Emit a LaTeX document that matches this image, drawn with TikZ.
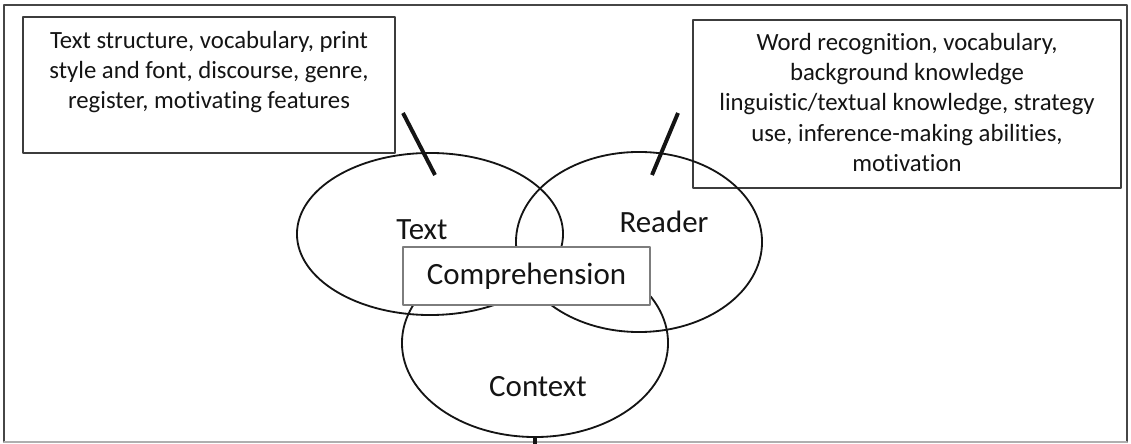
\documentclass[tikz,border=0pt]{standalone}
\usepackage{fontspec}
\setmainfont{Carlito}[Ligatures={NoCommon,NoContextual}]
\usetikzlibrary{shapes.geometric}

\begin{document}
\begin{tikzpicture}[
    line cap=round,
    line join=round,
    x=0.025cm,
    y=-0.025cm
]

% =========================================================
% Colors
% =========================================================
\definecolor{framegray}{RGB}{70,70,70}
\definecolor{framelight}{RGB}{175,175,175}
\definecolor{boxgray}{RGB}{60,60,60}
\definecolor{compgray}{RGB}{125,125,125}
\definecolor{inkblack}{RGB}{20,20,20}

% =========================================================
% Styles
% =========================================================
\tikzset{
    outerframe/.style={framegray,line width=1.3pt},
    infobox/.style={draw=boxgray,line width=1.1pt,rectangle,inner sep=0pt},
    infotext/.style={font=\fontsize{17.6}{21.5}\selectfont,align=center,inner sep=0pt,text=inkblack},
    venn/.style={draw=inkblack,ellipse,line width=1.3pt,inner sep=0pt},
    vennlabel/.style={font=\fontsize{22}{26}\selectfont,text=inkblack,anchor=base,inner sep=0pt},
    compbox/.style={draw=compgray,fill=white,line width=1.1pt,rectangle,inner sep=0pt,
        font=\fontsize{22}{26}\selectfont,text=inkblack},
    tickline/.style={inkblack,line width=2.8pt,line cap=butt}
}

\useasboundingbox (0,0) rectangle (1131,444);

% outer frame
\draw[outerframe] (4,442) -- (4,5) -- (1127,5) -- (1127,442);
\draw[framelight,line width=1.3pt] (4,442) -- (1127,442);

% =========================================================
% Description boxes
% =========================================================
\node[infobox,minimum width=9.3cm,minimum height=3.4cm] (textbox) at (209,85) {};
\node[infotext,anchor=north] (textinfo) at (209,31)
    {Text structure, vocabulary, print\\style and font, discourse, genre,\\register, motivating features};

\node[infobox,minimum width=10.7cm,minimum height=4.2cm] (readerbox) at (907,104) {};
\node[infotext,anchor=north] (readerinfo) at (907,33)
    {Word recognition, vocabulary,\\background knowledge\\linguistic/textual knowledge, strategy\\use, inference-making abilities,\\motivation};

% =========================================================
% Venn ellipses
% =========================================================
\node[venn,minimum width=6.65cm,minimum height=4.05cm] (textell) at (430,234) {};
\node[venn,minimum width=6.15cm,minimum height=4.5cm] (readerell) at (639,242) {};
\node[venn,minimum width=6.65cm,minimum height=4.7cm] (contextell) at (535,343) {};

\node[vennlabel] (textlabel) at (422,240) {Text};
\node[vennlabel] (readerlabel) at (664,233) {Reader};
\node[vennlabel] (contextlabel) at (538,397) {Context};

% overlap box
\node[compbox,minimum width=6.175cm,minimum height=1.45cm] (comp) at (526.5,276) {Comprehension};

% =========================================================
% Tick marks
% =========================================================
\coordinate (texttickA) at (403,113);
\coordinate (texttickB) at (435,175);
\draw[tickline] (texttickA) -- (texttickB);

\coordinate (readertickA) at (678,113);
\coordinate (readertickB) at (652,175);
\draw[tickline] (readertickA) -- (readertickB);

\coordinate (contexttick) at (535,446);
\draw[tickline] (contextell.south) -- (contexttick);

\end{tikzpicture}
\end{document}
